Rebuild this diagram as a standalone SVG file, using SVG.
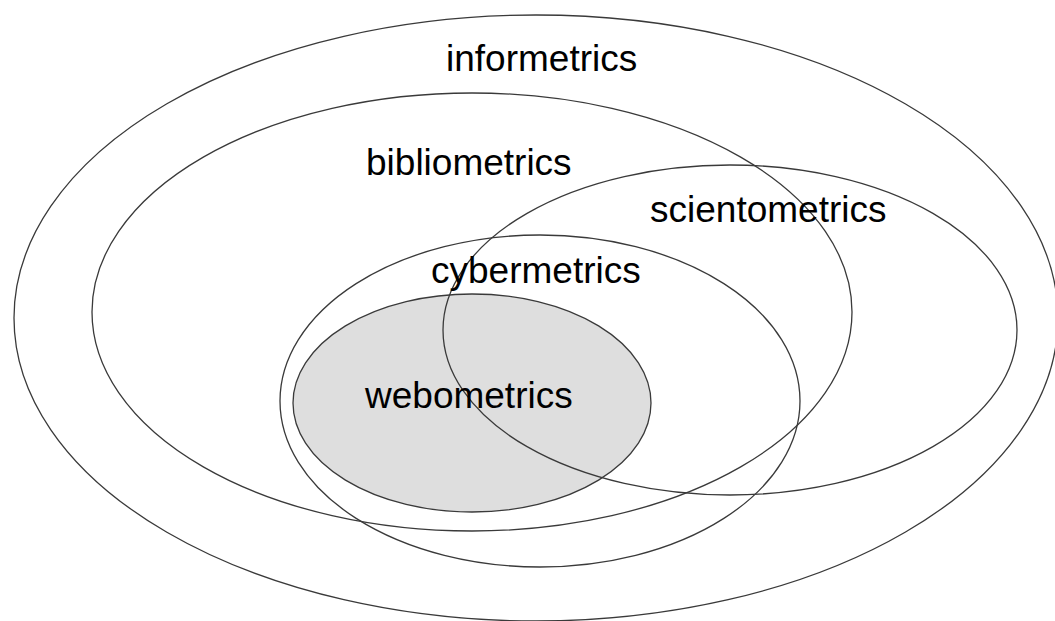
<svg xmlns="http://www.w3.org/2000/svg" width="1055" height="621" viewBox="0 0 1055 621">
<style>
.ring{fill:none;stroke:#3a3a3a;stroke-width:1.3}
.web{fill:#dedede;stroke:#3a3a3a;stroke-width:1.3}
.lbl{font-family:"Liberation Sans",Arial,sans-serif;font-size:37px;fill:#000}
</style>
<rect width="1055" height="621" fill="#fff"/>
<g id="webometrics">
<ellipse class="web" cx="472" cy="403" rx="179" ry="109"/>
</g>
<g id="informetrics">
<ellipse class="ring" cx="536" cy="318" rx="522" ry="303"/>
<text class="lbl" x="446" y="71">informetrics</text>
</g>
<g id="bibliometrics">
<ellipse class="ring" cx="472" cy="312" rx="380" ry="219"/>
<text class="lbl" x="366" y="175">bibliometrics</text>
</g>
<g id="scientometrics">
<ellipse class="ring" cx="730" cy="330" rx="287" ry="165"/>
<text class="lbl" x="650" y="222">scientometrics</text>
</g>
<g id="cybermetrics">
<ellipse class="ring" cx="540" cy="401" rx="260" ry="166"/>
<text class="lbl" x="431" y="283">cybermetrics</text>
</g>
<g id="webometrics-label">
<text class="lbl" x="365" y="408">webometrics</text>
</g>
<g id="connectors"></g>
</svg>
